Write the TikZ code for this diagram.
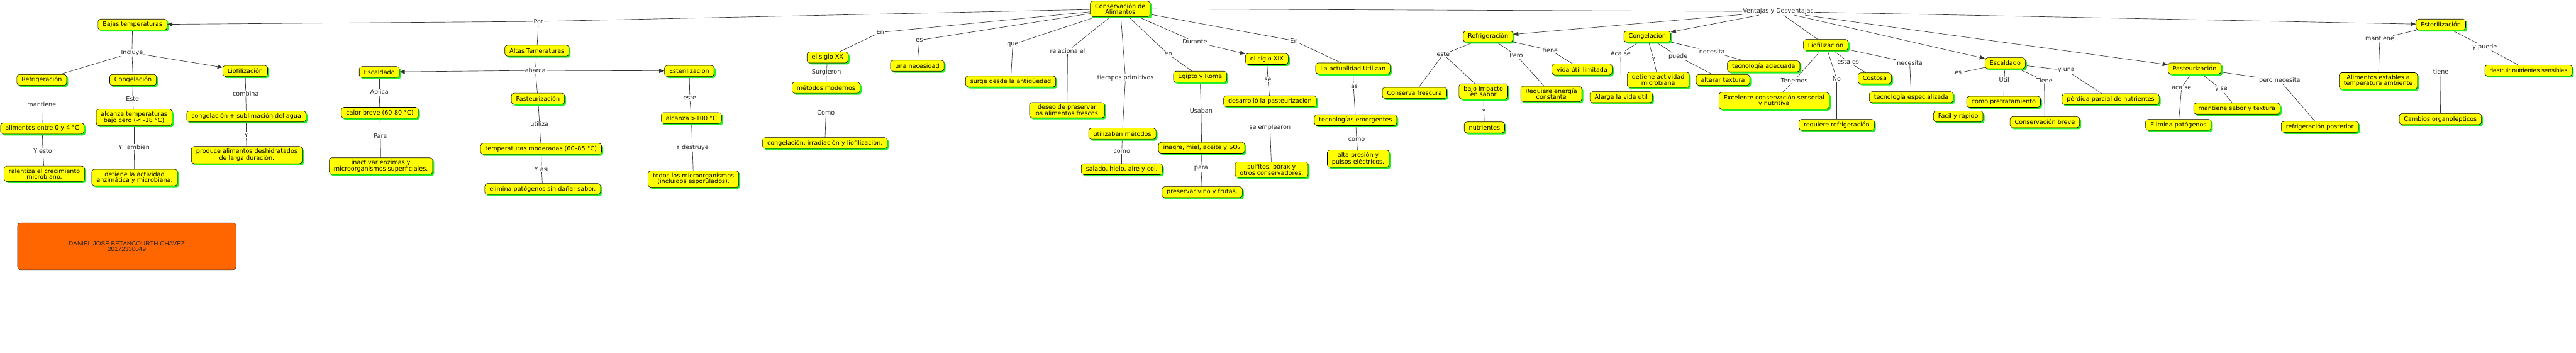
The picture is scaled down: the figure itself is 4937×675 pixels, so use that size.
\documentclass[tikz,border=0pt]{standalone}
\usepackage{fontspec}
\setmainfont{DejaVu Sans}
\newfontfamily\arialf{Liberation Sans}
\usetikzlibrary{arrows.meta,shadows,backgrounds}
\definecolor{cmyellow}{HTML}{FFFF00}
\definecolor{cmgreen}{HTML}{22EE22}
\definecolor{cmorange}{HTML}{FF6600}
\newcommand\cmf{\fontsize{11.6}{11.3}\selectfont}
\tikzset{
  concept/.style={draw=black, line width=0.7pt, fill=cmyellow, rounded corners=5pt,
    align=center, inner xsep=9pt, inner ysep=4.5pt, minimum height=21pt, font=\cmf,
    drop shadow={shadow xshift=3pt, shadow yshift=-3pt, fill=cmgreen, opacity=1}},
  linklbl/.style={fill=white, inner sep=1.2pt, font=\cmf, text=black!85},
  conn/.style={draw=black!80, line width=0.8pt},
  arr/.style={conn, -{Triangle[length=10pt,width=8pt]}},
}
\begin{document}
\begin{tikzpicture}[x=1pt,y=-1pt]
\useasboundingbox (0,0) rectangle (4937,675);
% ---------- concepts (left part)
\node[concept] (bt) at (254,47) {Bajas temperaturas};
\node[concept] (refL) at (80,153) {Refrigeración};
\node[concept] (conL) at (255,153) {Congelación};
\node[concept] (lioL) at (470,136) {Liofilización};
\node[concept] (al04) at (81,246) {alimentos entre 0 y 4 °C};
\node[concept] (alcT) at (257,225) {alcanza temperaturas\\bajo cero (< -18 °C)};
\node[concept] (ralen) at (85,333) {ralentiza el crecimiento\\microbiano.};
\node[concept] (detL) at (258,340) {detiene la actividad\\enzimática y microbiana.};
\node[concept] (cong) at (472,223) {congelación + sublimación del agua};
\node[concept] (prod) at (473,297) {produce alimentos deshidratados\\de larga duración.};
\node[concept] (escL) at (727,138) {Escaldado};
\node[concept] (calor) at (728,216) {calor breve (60-80 °C)};
\node[concept] (inact) at (730,318) {inactivar enzimas y\\microorganismos superficiales.};
\node[concept] (altas) at (1029,97) {Altas Temeraturas};
\node[concept] (pasL) at (1031,189) {Pasteurización};
\node[concept] (tmod) at (1037,285) {temperaturas moderadas (60–85 °C)};
\node[concept] (elim) at (1040,362) {elimina patógenos sin dañar sabor.};
\node[concept] (estL) at (1321,136) {Esterilización};
\node[concept] (a100) at (1325,226) {alcanza >100 °C};
\node[concept] (todos) at (1329,343) {todos los microorganismos\\(incluidos esporulados).};
\node[concept] (sxx) at (1586,110) {el siglo XX};
\node[concept] (metm) at (1583,168) {métodos modernos};
\node[concept] (cirl) at (1581,274) {congelación, irradiación y liofilización.};
\node[concept] (unan) at (1758,126) {una necesidad};
\node[concept] (surg) at (1937,156) {surge desde la antigüedad};
\node[concept] (deseo) at (2045,211) {deseo de preservar\\los alimentos frescos.};
\node[concept] (main) at (2147,17) {Conservación de\\Alimentos};
\node[concept] (utm) at (2151,256) {utilizaban métodos};
\node[concept] (salado) at (2150,324) {salado, hielo, aire y col.};
\node[concept] (egr) at (2300,147) {Egipto y Roma};
\node[concept] (inag) at (2303,283) {inagre, miel, aceite y SO₂};
\node[concept] (pvf) at (2304,368) {preservar vino y frutas.};
\node[concept] (sxix) at (2428,113) {el siglo XIX};
\node[concept] (desp) at (2434,194) {desarrolló la pasteurización};
\node[concept] (sulf) at (2437,325) {sulfitos, bórax y\\otros conservadores.};
\node[concept] (act) at (2593,131) {La actualidad Utilizan};
\node[concept] (temer) at (2598,230) {tecnologías emergentes};
\node[concept] (alta) at (2603,304) {alta presión y\\pulsos eléctricos.};
% ---------- concepts (right part)
\node[concept] (refR) at (2852,70) {Refrigeración};
\node[concept] (cfr) at (2711,178) {Conserva frescura};
\node[concept] (bis) at (2843,175) {bajo impacto\\en sabor};
\node[concept] (nutr) at (2845,244) {nutrientes};
\node[concept] (vul) at (3032,133) {vida útil limitada};
\node[concept] (rec) at (2973,180) {Requiere energía\\constante};
\node[concept] (conR) at (3157,70) {Congelación};
\node[concept] (alv) at (3107,186) {Alarga la vida útil};
\node[concept] (dam) at (3178,153) {detiene actividad\\microbiana};
\node[concept] (altx) at (3302,153) {alterar textura};
\node[concept] (tad) at (3380,127) {tecnología adecuada};
\node[concept] (lioR) at (3499,86) {Liofilización};
\node[concept] (exc) at (3400,193) {Excelente conservación sensorial\\y nutritiva};
\node[concept] (rref) at (3520,239) {requiere refrigeración};
\node[concept] (cost) at (3593,150) {Costosa};
\node[concept] (tesp) at (3663,186) {tecnología especializada};
\node[concept] (escR) at (3843,121) {Escaldado};
\node[concept] (fyr) at (3753,223) {Fácil y rápido};
\node[concept] (cpre) at (3840,195) {como pretratamiento};
\node[concept] (cbr) at (3919,234) {Conservación breve};
\node[concept] (ppn) at (4045,190) {pérdida parcial de nutrientes};
\node[concept] (pasR) at (4206,131) {Pasteurización};
\node[concept] (elp) at (4175,239) {Elimina patógenos};
\node[concept] (mst) at (4287,208) {mantiene sabor y textura};
\node[concept] (rpo) at (4446,243) {refrigeración posterior};
\node[concept] (estR) at (4678,47) {Esterilización};
\node[concept] (aest) at (4558,155) {Alimentos estables a\\temperatura ambiente};
\node[concept] (corg) at (4677,228) {Cambios organolépticos};
\node[concept, font=\arialf\fontsize{12}{11.3}\selectfont] (dns) at (4846,135) {destruir nutrientes sensibles};
% ---------- author box
\node[draw=black!80, line width=0.7pt, fill=cmorange, rounded corners=6pt, align=center,
  minimum width=419pt, minimum height=90pt, text=black!85,
  font=\arialf\fontsize{12}{11.3}\selectfont] (author) at (243,472)
  {DANIEL JOSE BETANCOURTH CHAVEZ\\20172330049};
% ---------- link labels
\node[linklbl] (lincl) at (253,101) {Incluye};
\node[linklbl] (lmant) at (80,200) {mantiene};
\node[linklbl] (leste1) at (254,189) {Este};
\node[linklbl] (lyesto) at (82,289) {Y esto};
\node[linklbl] (lytamb) at (257,282) {Y Tambien};
\node[linklbl] (lcomb) at (471,179) {combina};
\node[linklbl] (ly1) at (472,259) {Y};
\node[linklbl] (laplica) at (727,177) {Aplica};
\node[linklbl] (lpara1) at (729,260) {Para};
\node[linklbl] (lpor) at (1032,41) {Por};
\node[linklbl] (labarca) at (1026,135) {abarca};
\node[linklbl] (lutiliza) at (1034,237) {utiliza};
\node[linklbl] (lyasi) at (1038,324) {Y asi};
\node[linklbl] (leste2) at (1322,187) {este};
\node[linklbl] (lydest) at (1327,283) {Y destruye};
\node[linklbl] (len1) at (1687,62) {En};
\node[linklbl] (lsurg) at (1584,138) {Surgieron};
\node[linklbl] (lcomo1) at (1583,216) {Como};
\node[linklbl] (les1) at (1762,77) {es};
\node[linklbl] (lque) at (1941,85) {que};
\node[linklbl] (lrel) at (2046,98) {relaciona el};
\node[linklbl] (ltp) at (2157,149) {tiempos primitivos};
\node[linklbl] (lcomo2) at (2150,290) {como};
\node[linklbl] (len2) at (2239,104) {en};
\node[linklbl] (lusaban) at (2302,212) {Usaban};
\node[linklbl] (lpara2) at (2302,323) {para};
\node[linklbl] (ldurante) at (2290,80) {Durante};
\node[linklbl] (lse) at (2430,153) {se};
\node[linklbl] (lseemp) at (2434,245) {se emplearon};
\node[linklbl] (len3) at (2480,78) {En};
\node[linklbl] (llas) at (2594,165) {las};
\node[linklbl] (lcomo3) at (2600,267) {como};
\node[linklbl] (lvyd) at (3408,22) {Ventajas y Desventajas};
\node[linklbl] (leste3) at (2766,104) {este};
\node[linklbl] (ly2) at (2844,213) {Y};
\node[linklbl] (lpero) at (2906,106) {Pero};
\node[linklbl] (ltiene1) at (2971,96) {tiene};
\node[linklbl] (lacase) at (3106,103) {Aca se};
\node[linklbl] (ly3) at (3169,113) {Y};
\node[linklbl] (lpuede) at (3216,108) {puede};
\node[linklbl] (lnec1) at (3281,99) {necesita};
\node[linklbl] (lten) at (3439,154) {Tenemos};
\node[linklbl] (lno) at (3520,151) {No};
\node[linklbl] (lestaes) at (3542,118) {esta es};
\node[linklbl] (lnec2) at (3660,120) {necesita};
\node[linklbl] (les2) at (3753,140) {es};
\node[linklbl] (lutil) at (3841,153) {Util};
\node[linklbl] (ltiene2) at (3918,154) {Tiene};
\node[linklbl] (lyuna) at (3960,135) {y una};
\node[linklbl] (lacase2) at (4181,168) {aca se};
\node[linklbl] (lyse) at (4257,171) {y se};
\node[linklbl] (lperonec) at (4369,154) {pero necesita};
\node[linklbl] (lmant2) at (4561,74) {mantiene};
\node[linklbl] (ltiene3) at (4678,137) {tiene};
\node[linklbl] (lypuede) at (4762,90) {y puede};
% ---------- connectors
\begin{scope}[on background layer]
\fill[white] (0,0) rectangle (4937,675);
\foreach \a/\b in {bt/lincl, lincl/refL, lincl/conL,
  refL/lmant, lmant/al04, al04/lyesto, lyesto/ralen,
  conL/leste1, leste1/alcT, alcT/lytamb, lytamb/detL,
  lioL/lcomb, lcomb/cong, cong/ly1, ly1/prod,
  escL/laplica, laplica/calor, calor/lpara1, lpara1/inact,
  main/lpor, lpor/altas, altas/labarca, labarca/pasL,
  pasL/lutiliza, lutiliza/tmod, tmod/lyasi, lyasi/elim,
  estL/leste2, leste2/a100, a100/lydest, lydest/todos,
  main/len1, len1/sxx, sxx/lsurg, lsurg/metm, metm/lcomo1, lcomo1/cirl,
  main/les1, les1/unan, main/lque, lque/surg, main/lrel, lrel/deseo,
  main/ltp, ltp/utm, utm/lcomo2, lcomo2/salado,
  main/len2, len2/egr, egr/lusaban, lusaban/inag, inag/lpara2, lpara2/pvf,
  main/ldurante, sxix/lse, lse/desp, desp/lseemp, lseemp/sulf,
  main/len3, len3/act, act/llas, llas/temer, temer/lcomo3, lcomo3/alta,
  main/lvyd, lvyd/lioR,
  refR/leste3, leste3/cfr, leste3/bis, bis/ly2, ly2/nutr,
  refR/lpero, lpero/rec, refR/ltiene1, ltiene1/vul,
  conR/lacase, lacase/alv, conR/ly3, ly3/dam, conR/lpuede, lpuede/altx, conR/lnec1, lnec1/tad,
  lioR/lten, lten/exc, lioR/lno, lno/rref, lioR/lestaes, lestaes/cost, lioR/lnec2, lnec2/tesp,
  escR/les2, les2/fyr, escR/lutil, lutil/cpre, escR/ltiene2, ltiene2/cbr, escR/lyuna, lyuna/ppn,
  pasR/lacase2, lacase2/elp, pasR/lyse, lyse/mst, pasR/lperonec, lperonec/rpo,
  estR/lmant2, lmant2/aest, estR/ltiene3, ltiene3/corg, estR/lypuede, lypuede/dns}
  \draw[conn] (\a) -- (\b);
\end{scope}
\foreach \a/\b in {lpor/bt, lincl/lioL, labarca/escL, labarca/estL, ldurante/sxix,
  lvyd/refR, lvyd/conR, lvyd/escR, lvyd/pasR, lvyd/estR}
  \draw[arr] (\a) -- (\b);
\end{tikzpicture}
\end{document}
